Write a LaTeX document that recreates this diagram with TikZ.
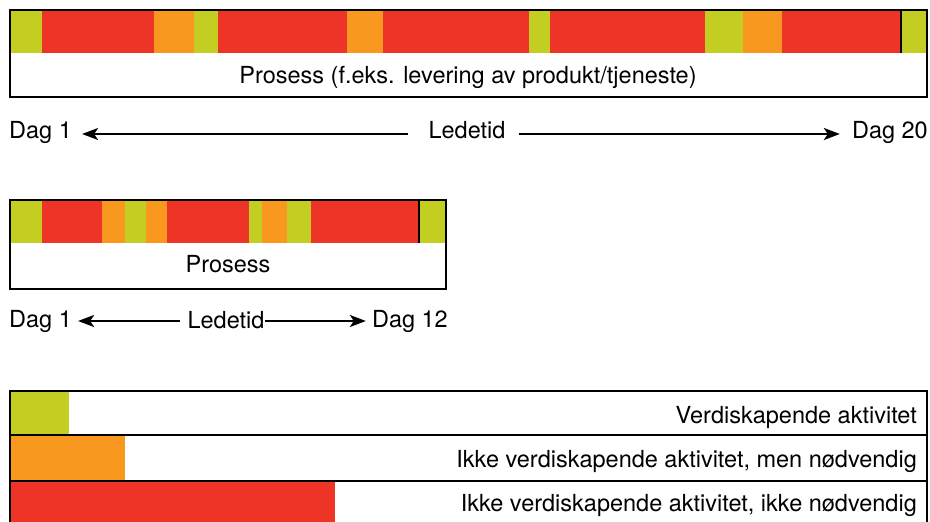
\documentclass[tikz,border=0pt]{standalone}
\usepackage{fontspec}
\setmainfont{TeX Gyre Heros}
\usetikzlibrary{arrows.meta}
\definecolor{vgreen}{RGB}{196,206,34}
\definecolor{vorange}{RGB}{248,152,30}
\definecolor{vred}{RGB}{238,52,38}
\begin{document}
\begin{tikzpicture}[x=1pt,y=-1pt,
  lbl/.style={inner sep=0pt,text height=17pt,text depth=5pt,font=\fontsize{23.5}{28}\selectfont},
  frame/.style={draw=black,line width=2pt},
  arr/.style={line width=2.2pt,-{Stealth[length=16pt,width=12pt,inset=4pt]}}]
\useasboundingbox (0,0) rectangle (930,522);
\clip (0,0) rectangle (930,522);
\fill[white] (0,0) rectangle (930,522);
% ---- top bar
\foreach \a/\b/\c in {10/42/vgreen,42/154/vred,154/194/vorange,194/218/vgreen,218/347/vred,347/383/vorange,383/529/vred,529/550/vgreen,550/705/vred,705/743/vgreen,743/782/vorange,782/901/vred,901/927/vgreen}
  \fill[\c] (\a,10) rectangle (\b,53);
\draw[line width=2pt] (901,10) -- (901,53);
\draw[frame] (10,10) rectangle (927,97);
\node[lbl] (p1) at (468,77) {Prosess (f.eks. levering av produkt/tjeneste)};
\node[lbl,anchor=west] (d1) at (9,132) {Dag 1};
\node[lbl] (lt1) at (467,132) {Ledetid};
\node[lbl,anchor=east] (d20) at (928,132) {Dag 20};
\draw[arr,shorten <=20pt,shorten >=10pt] ([yshift=-2pt]lt1.west) -- ([yshift=-2pt]d1.east);
\draw[arr,shorten <=13pt,shorten >=12pt] ([yshift=-2pt]lt1.east) -- ([yshift=-2pt]d20.west);
% ---- middle bar
\foreach \a/\b/\c in {10/42/vgreen,42/102/vred,102/125/vorange,125/146/vgreen,146/167/vorange,167/249/vred,249/262/vgreen,262/287/vorange,287/311/vgreen,311/419/vred,419/446/vgreen}
  \fill[\c] (\a,200) rectangle (\b,243);
\draw[line width=2pt] (419,200) -- (419,243);
\draw[frame] (10,200) rectangle (446,289);
\node[lbl] (p2) at (228,266) {Prosess};
\node[lbl,anchor=west] (e1) at (9,321) {Dag 1};
\node[lbl] (lt2) at (226,322) {Ledetid};
\node[lbl,anchor=east] (e12) at (448,321) {Dag 12};
\draw[arr,shorten <=7pt,shorten >=6pt] (lt2.west |- e1.east) -- (e1.east);
\draw[arr,shorten <=0pt,shorten >=6pt] (lt2.east |- e12.west) -- (e12.west);
% ---- legend
\fill[vgreen] (10,391) rectangle (69,435);
\fill[vorange] (10,435) rectangle (125,481);
\fill[vred] (10,481) rectangle (335,530);
\draw[frame] (10,391) rectangle (927,530);
\draw[line width=2pt] (10,435) -- (927,435);
\draw[line width=2pt] (10,481) -- (927,481);
\node[lbl,anchor=east] (l1) at (917,417) {Verdiskapende aktivitet};
\node[lbl,anchor=east] (l2) at (917,461) {Ikke verdiskapende aktivitet, men nødvendig};
\node[lbl,anchor=east] (l3) at (917,505) {Ikke verdiskapende aktivitet, ikke nødvendig};
\end{tikzpicture}
\end{document}
